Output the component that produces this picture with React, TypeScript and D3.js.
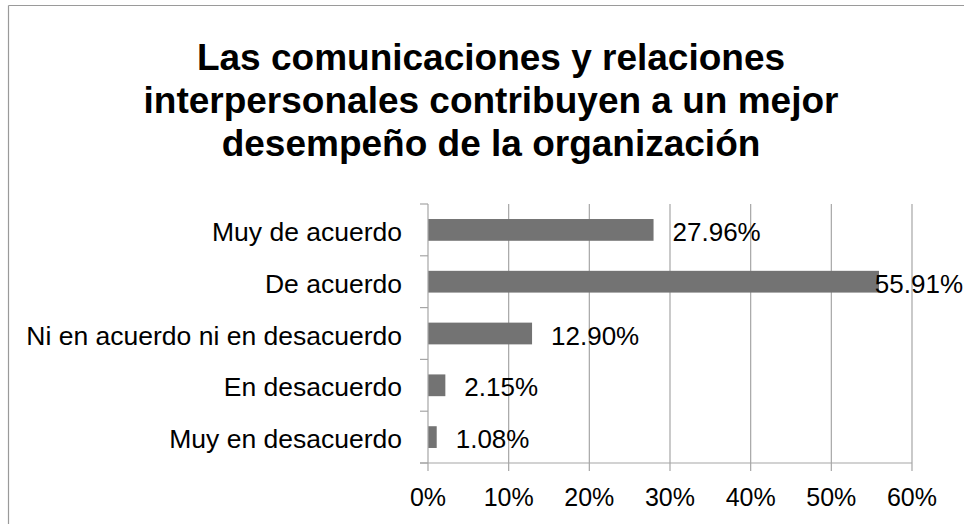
import React, { useEffect, useRef } from "react";
import * as d3 from "d3";

const categories = [
  "Muy de acuerdo",
  "De acuerdo",
  "Ni en acuerdo ni en desacuerdo",
  "En desacuerdo",
  "Muy en desacuerdo",
];
const values = [27.96, 55.91, 12.9, 2.15, 1.08];
const xTicks = [0, 10, 20, 30, 40, 50, 60];
const titleLines = [
  "Las comunicaciones y relaciones",
  "interpersonales contribuyen a un mejor",
  "desempeño de la organización",
];

const W = 964;
const H = 524;
const FONT = "'Liberation Sans', Arial, sans-serif";

export default function App() {
  const ref = useRef<SVGSVGElement | null>(null);

  useEffect(() => {
    const svg = d3.select(ref.current);
    svg.selectAll("*").remove();

    const left = 428;
    const right = 912;
    const top = 204;
    const bottom = 463;
    const gridColor = "#a6a6a6";

    // border
    svg.append("line").attr("x1", 8.5).attr("x2", W).attr("y1", 5.5).attr("y2", 5.5)
      .attr("stroke", "#9a9a9a").attr("stroke-width", 1.2);
    svg.append("line").attr("x1", 8.5).attr("x2", 8.5).attr("y1", 5.5).attr("y2", H)
      .attr("stroke", "#9a9a9a").attr("stroke-width", 1.2);

    // title
    const cx = 491;
    const title = svg.append("text")
      .attr("x", cx)
      .attr("text-anchor", "middle")
      .attr("font-family", FONT)
      .attr("font-weight", "bold")
      .attr("font-size", 37)
      .attr("fill", "#000");
    titleLines.forEach((t, i) => {
      title.append("tspan").attr("x", cx).attr("y", 70 + i * 43).text(t);
    });

    const x = d3.scaleLinear().domain([0, 60]).range([left, right]);
    const y = d3.scaleBand<string>().domain(categories).range([top, bottom])
      .paddingInner(0.58).paddingOuter(0.29);

    // gridlines
    svg.append("g").selectAll("line").data(xTicks.filter((t) => t > 0)).join("line")
      .attr("x1", (d) => x(d)).attr("x2", (d) => x(d))
      .attr("y1", top).attr("y2", bottom + 8)
      .attr("stroke", gridColor).attr("stroke-width", 1.2);

    // bars
    svg.append("g").selectAll("rect").data(values).join("rect")
      .attr("x", x(0))
      .attr("y", (_, i) => y(categories[i])!)
      .attr("width", (d) => x(d) - x(0))
      .attr("height", y.bandwidth())
      .attr("fill", "#737373");

    // left axis
    svg.append("line").attr("x1", left).attr("x2", left).attr("y1", top).attr("y2", bottom)
      .attr("stroke", gridColor).attr("stroke-width", 1.2);
    const step = y.step();
    const boundaries = d3.range(categories.length + 1).map((i) => top + i * step);
    svg.append("g").selectAll("line").data(boundaries).join("line")
      .attr("x1", left - 8).attr("x2", left)
      .attr("y1", (d) => d).attr("y2", (d) => d)
      .attr("stroke", gridColor).attr("stroke-width", 1.2);

    // bottom axis
    svg.append("line").attr("x1", left - 8).attr("x2", right).attr("y1", bottom).attr("y2", bottom)
      .attr("stroke", gridColor).attr("stroke-width", 1.2);
    svg.append("line").attr("x1", left).attr("x2", left).attr("y1", bottom).attr("y2", bottom + 8)
      .attr("stroke", gridColor).attr("stroke-width", 1.2);

    // tick labels
    svg.append("g").selectAll("text").data(xTicks).join("text")
      .attr("x", (d) => x(d)).attr("y", 506)
      .attr("text-anchor", "middle")
      .attr("font-family", FONT).attr("font-size", 25).attr("fill", "#000")
      .text((d) => `${d}%`);

    // category labels
    svg.append("g").selectAll("text").data(categories).join("text")
      .attr("x", 402)
      .attr("y", (d) => y(d)! + y.bandwidth() / 2 + 11)
      .attr("text-anchor", "end")
      .attr("font-family", FONT).attr("font-size", 26.5).attr("fill", "#000")
      .text((d) => d);

    // data labels
    const labels = svg.append("g").selectAll("text").data(values).join("text")
      .attr("y", (_, i) => y(categories[i])! + y.bandwidth() / 2 + 11)
      .attr("font-family", FONT).attr("font-size", 26).attr("fill", "#000")
      .text((d) => `${d.toFixed(2)}%`);
    labels.each(function (d) {
      const el = this as SVGTextElement;
      const w = el.getComputedTextLength();
      let lx = x(d) + 19;
      if (lx + w > 963) lx = 963 - w;
      d3.select(el).attr("x", lx);
    });
  }, []);

  return (
    <svg
      ref={ref}
      width={W}
      height={H}
      style={{ position: "absolute", left: 0, top: 0, background: "#fff" }}
    />
  );
}
